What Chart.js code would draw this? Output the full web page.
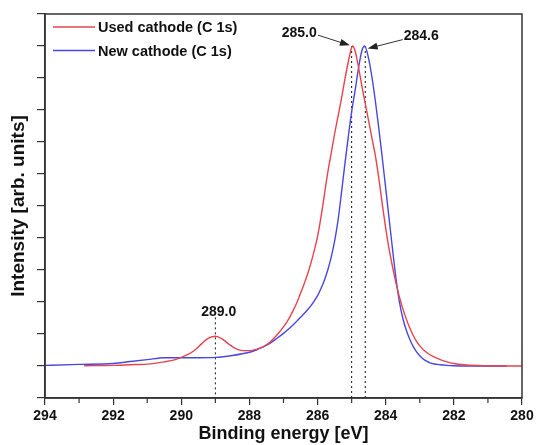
<!DOCTYPE html>
<html>
<head>
<meta charset="utf-8">
<script src="https://cdn.jsdelivr.net/npm/chart.js@4"></script>
<style>
html,body{margin:0;padding:0;background:#fff}
#wrap{width:538px;height:445px;position:relative}
</style>
</head>
<body>
<div id="wrap"><canvas id="c"></canvas></div>
<script>
// binding energy (eV) / intensity (arb.)
const usedX=[292.85,292.0,291.5,291.0,290.5,290.2,290.0,289.8,289.6,289.4,289.2,289.0,288.8,288.6,288.4,288.2,288.0,287.8,287.6,287.4,287.2,287.0,286.9,286.8,286.7,286.6,286.5,286.4,286.3,286.2,286.1,286.0,285.9,285.8,285.7,285.6,285.5,285.4,285.3,285.2,285.1,285.0,284.97,284.9,284.8,284.7,284.6,284.5,284.4,284.3,284.2,284.1,284.0,283.9,283.8,283.7,283.6,283.5,283.4,283.3,283.2,283.1,283.0,282.8,282.6,282.4,282.2,282.0,281.7,281.3,280.8,280.0];
const usedY=[1.01,1.02,1.04,1.06,1.13,1.19,1.27,1.36,1.5,1.7,1.87,1.93,1.85,1.68,1.54,1.48,1.48,1.52,1.6,1.74,1.96,2.22,2.38,2.56,2.77,3.0,3.27,3.55,3.85,4.2,4.6,5.05,5.65,6.35,7.05,7.65,8.25,8.8,9.35,9.95,10.5,10.95,11.0,10.85,10.35,9.75,9.2,8.65,8.1,7.55,6.85,6.05,5.3,4.65,4.1,3.6,3.17,2.8,2.48,2.2,1.97,1.78,1.63,1.42,1.29,1.2,1.13,1.08,1.04,1.015,1.0,1.0];
const newX=[294.0,293.0,292.0,291.5,291.0,290.5,290.0,289.5,289.0,288.5,288.0,287.8,287.6,287.4,287.2,287.0,286.8,286.6,286.5,286.4,286.3,286.2,286.1,286.0,285.9,285.8,285.7,285.6,285.5,285.4,285.3,285.2,285.1,285.0,284.9,284.8,284.7,284.62,284.5,284.4,284.3,284.2,284.1,284.0,283.9,283.8,283.7,283.6,283.5,283.4,283.3,283.2,283.1,283.0,282.9,282.8,282.7,282.6,282.4,282.2,282.0,281.0,280.45];
const newY=[1.02,1.05,1.08,1.14,1.2,1.26,1.26,1.26,1.27,1.33,1.43,1.5,1.6,1.71,1.86,2.02,2.2,2.41,2.52,2.63,2.75,2.88,3.03,3.2,3.42,3.68,4.0,4.4,4.9,5.55,6.4,7.3,8.15,8.95,9.6,10.3,10.85,11.0,10.6,10.0,9.25,8.4,7.5,6.55,5.6,4.65,3.75,3.02,2.5,2.13,1.85,1.62,1.45,1.32,1.22,1.15,1.1,1.07,1.04,1.02,1.01,1.0,1.0];
const seriesNames=['Used cathode (C 1s)','New cathode (C 1s)'];
const peakPos=[285.0,284.6,289.0];
const peakTop=[11.0,11.0,2.52];
const peakLabels=['285.0','284.6','289.0'];

const FONT='"Liberation Sans", Arial, sans-serif';
const RED='#e8434d', BLUE='#4848e0';

function pts(xs,ys){return xs.map((x,i)=>({x,y:ys[i]}));}

function arrow(ctx,x1,y1,x2,y2){
  const a=Math.atan2(y2-y1,x2-x1),L=10,W=3.5;
  ctx.beginPath();ctx.moveTo(x1,y1);ctx.lineTo(x2-Math.cos(a)*L*0.8,y2-Math.sin(a)*L*0.8);ctx.stroke();
  ctx.beginPath();ctx.moveTo(x2,y2);
  ctx.lineTo(x2-L*Math.cos(a)+W*Math.sin(a),y2-L*Math.sin(a)-W*Math.cos(a));
  ctx.lineTo(x2-L*Math.cos(a)-W*Math.sin(a),y2-L*Math.sin(a)+W*Math.cos(a));
  ctx.closePath();ctx.fill();
}

const decor={
  id:'decor',
  beforeDatasetsDraw(chart){
    const {ctx,scales:{x,y}}=chart;
    ctx.save();
    ctx.strokeStyle='#111';ctx.lineWidth=1;ctx.setLineDash([2,3]);
    peakPos.forEach((p,i)=>{
      ctx.beginPath();ctx.moveTo(x.getPixelForValue(p),y.getPixelForValue(peakTop[i]));
      ctx.lineTo(x.getPixelForValue(p),y.getPixelForValue(0));ctx.stroke();
    });
    ctx.restore();
  },
  afterDraw(chart){
    const {ctx,chartArea:a,scales:{x,y}}=chart;
    ctx.save();
    // frame
    ctx.strokeStyle='#333';ctx.lineWidth=1.5;
    ctx.strokeRect(a.left,a.top,a.right-a.left,a.bottom-a.top);
    // minor x ticks
    ctx.lineWidth=1.2;
    for(let v=281;v<294;v+=2){
      const px=x.getPixelForValue(v);
      ctx.beginPath();ctx.moveTo(px,a.bottom);ctx.lineTo(px,a.bottom+5);ctx.stroke();
    }
    // peak labels + arrows
    ctx.fillStyle='#111';ctx.font='bold 14px '+FONT;ctx.textAlign='center';ctx.textBaseline='middle';
    ctx.fillText(peakLabels[0],x.getPixelForValue(286.54),y.getPixelForValue(11.4));
    ctx.fillText(peakLabels[1],x.getPixelForValue(282.96),y.getPixelForValue(11.3));
    ctx.fillText(peakLabels[2],x.getPixelForValue(288.9),y.getPixelForValue(2.68));
    ctx.strokeStyle='#333';ctx.fillStyle='#222';ctx.lineWidth=1;
    arrow(ctx,x.getPixelForValue(285.99),y.getPixelForValue(11.34),x.getPixelForValue(285.05),y.getPixelForValue(11.02));
    arrow(ctx,x.getPixelForValue(283.5),y.getPixelForValue(11.2),x.getPixelForValue(284.53),y.getPixelForValue(10.92));
    // legend
    ctx.font='bold 14.5px '+FONT;ctx.textAlign='left';
    chart.data.datasets.forEach((d,i)=>{
      const ly=a.top+13+i*23.5;
      ctx.strokeStyle=d.borderColor;ctx.lineWidth=1.3;
      ctx.beginPath();ctx.moveTo(a.left+8,ly);ctx.lineTo(a.left+50,ly);ctx.stroke();
      ctx.fillStyle='#111';ctx.fillText(d.label,a.left+53,ly+1);
    });
    ctx.restore();
  }
};

new Chart(document.getElementById('c'),{
  type:'line',
  data:{datasets:[
    {label:seriesNames[0],data:pts(usedX,usedY),borderColor:RED,borderWidth:1.4,pointRadius:0,cubicInterpolationMode:'monotone',fill:false},
    {label:seriesNames[1],data:pts(newX,newY),borderColor:BLUE,borderWidth:1.4,pointRadius:0,cubicInterpolationMode:'monotone',fill:false}
  ]},
  options:{
    responsive:true,maintainAspectRatio:false,animation:false,
    layout:{padding:{top:14,right:16,left:0,bottom:0}},
    plugins:{legend:{display:false},tooltip:{enabled:false}},
    scales:{
      x:{type:'linear',min:280,max:294,reverse:true,
        afterFit:s=>{s.height=47;},
        ticks:{stepSize:1,autoSkip:false,maxRotation:0,padding:3,color:'#111',font:{family:FONT,size:14,weight:'bold'},
          callback:v=>v%2===0?String(v):''},
        grid:{drawOnChartArea:false,tickLength:7,lineWidth:1.2,color:c=>c.tick&&c.tick.value%2?'rgba(0,0,0,0)':'#333'},
        border:{color:'#333',width:1.5},
        title:{display:true,text:'Binding energy [eV]',color:'#111',font:{family:FONT,size:18,weight:'bold'},padding:{top:0,bottom:0}}
      },
      y:{min:0,max:12,
        afterFit:s=>{s.width=45;},
        ticks:{stepSize:1,callback:()=>'',padding:0},
        grid:{drawOnChartArea:false,tickLength:8,lineWidth:1.2,color:'#333'},
        border:{color:'#333',width:1.5},
        title:{display:true,text:'Intensity [arb. units]',color:'#111',font:{family:FONT,size:19,weight:'bold'},padding:{top:7,bottom:0}}
      }
    }
  },
  plugins:[decor]
});
</script>
</body>
</html>
